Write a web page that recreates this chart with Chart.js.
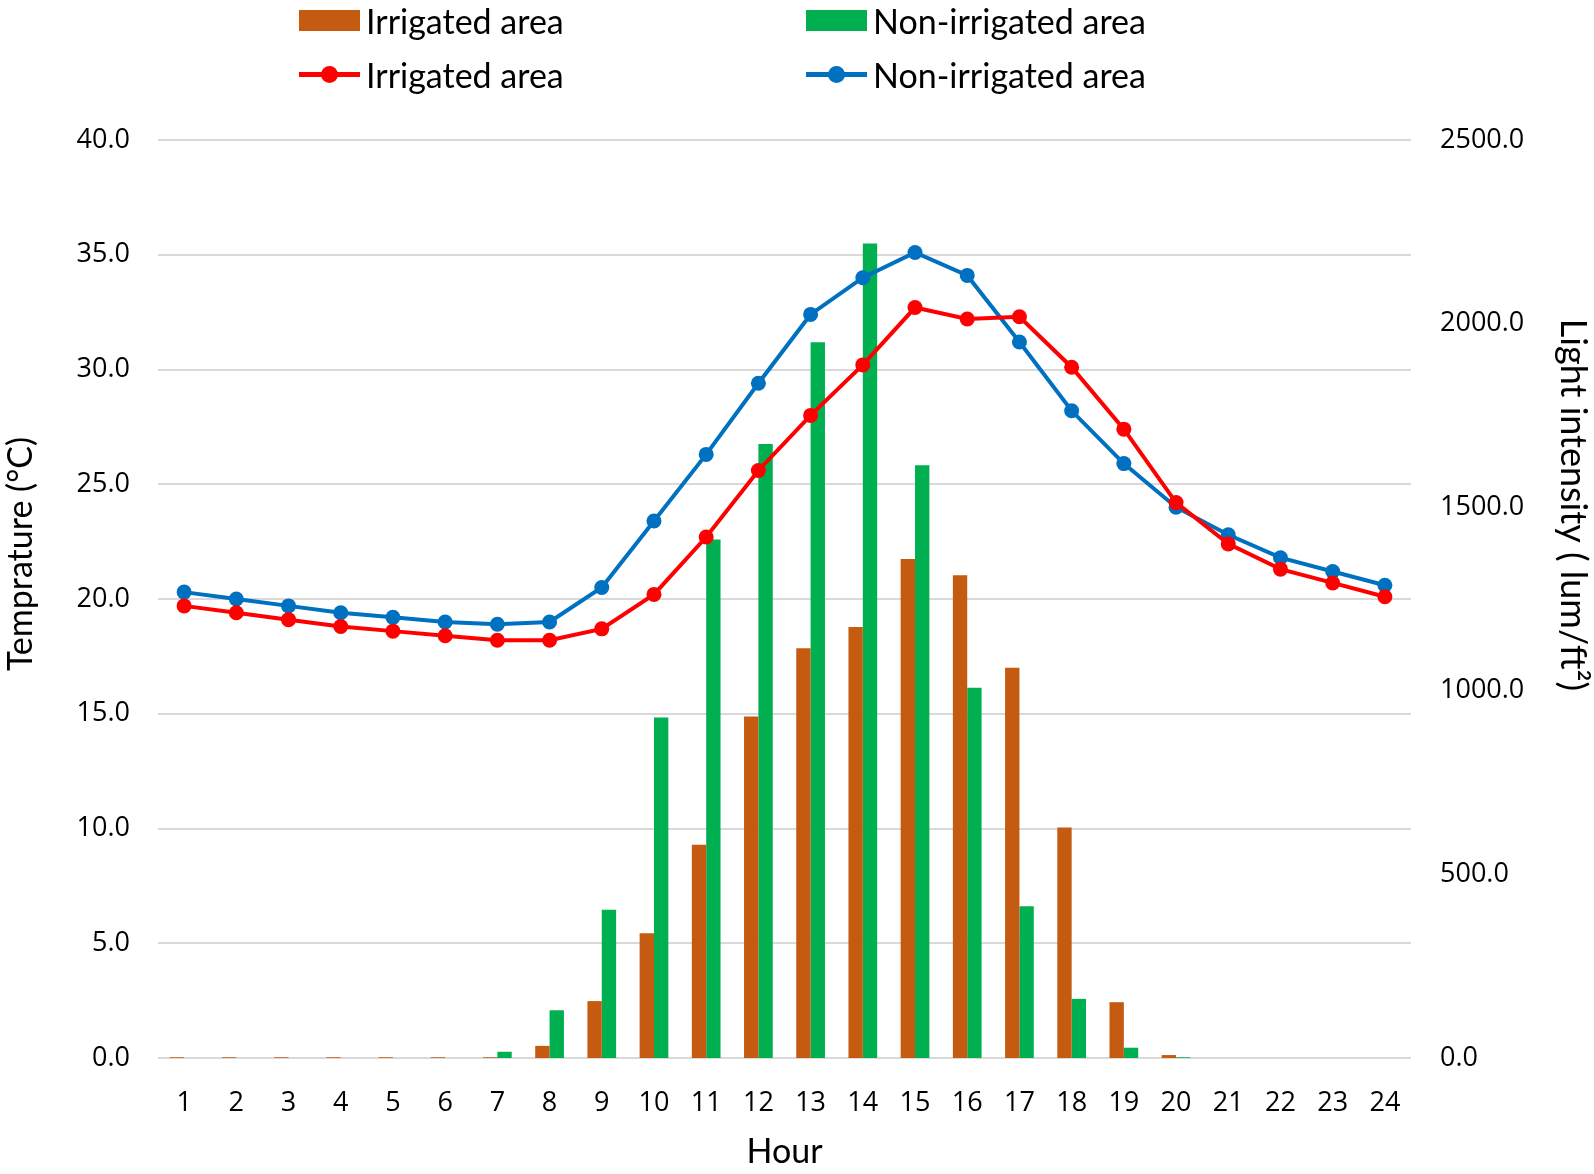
<!DOCTYPE html>
<html>
<head>
<meta charset="utf-8">
<script src="https://cdn.jsdelivr.net/npm/chart.js@4.4.0/dist/chart.umd.min.js"></script>
<style>
  body { margin: 0; background: #fff; }
  #wrap { position: relative; width: 1594px; height: 1174px; }
  #legend { position: absolute; left: 0; top: 0; width: 1594px; height: 110px; font-family: Lato, "Open Sans", sans-serif; font-size: 34px; color: #000; }
  .item { position: absolute; display: flex; align-items: center; height: 42px; }
  .box { width: 61px; height: 21px; margin-right: 6px; }
  .ln { position: relative; width: 61px; height: 21px; margin-right: 6px; }
  .ln::before { content: ''; position: absolute; left: 0; right: 0; top: 8px; height: 5px; background: var(--c); }
  .ln::after { content: ''; position: absolute; left: 22px; top: 2px; width: 17px; height: 17px; border-radius: 50%; background: var(--c); }
</style>
</head>
<body>
<div id="wrap">
  <canvas id="chart" width="1594" height="1174"></canvas>
  <div id="legend"></div>
</div>
<script>
// data
const hours = ['1','2','3','4','5','6','7','8','9','10','11','12','13','14','15','16','17','18','19','20','21','22','23','24'];

// temperature (°C), left axis
const tempIrrigated = [19.7, 19.4, 19.1, 18.8, 18.6, 18.4, 18.2, 18.2, 18.7, 20.2, 22.7, 25.6, 28.0, 30.2, 32.7, 32.2, 32.3, 30.1, 27.4, 24.2, 22.4, 21.3, 20.7, 20.1];
const tempNonIrrigated = [20.3, 20.0, 19.7, 19.4, 19.2, 19.0, 18.9, 19.0, 20.5, 23.4, 26.3, 29.4, 32.4, 34.0, 35.1, 34.1, 31.2, 28.2, 25.9, 24.0, 22.8, 21.8, 21.2, 20.6];

// light intensity (lum/ft²), right axis
const lightIrrigated = [2, 2, 2, 2, 2, 2, 2, 33, 155, 340, 581, 930, 1116, 1174, 1359, 1315, 1063, 628, 152, 8, 0, 0, 0, 0];
const lightNonIrrigated = [0, 0, 0, 0, 0, 0, 17, 130, 404, 927, 1412, 1672, 1949, 2218, 1614, 1008, 413, 161, 28, 2, 0, 0, 0, 0];

const ORANGE = '#C55A11';
const GREEN = '#00B050';
const RED = '#FF0000';
const BLUE = '#0070C0';

const tickFont = { family: '"Open Sans", sans-serif', size: 27 };
const titleFont = { family: 'Lato, "Open Sans", sans-serif', size: 34 };

// legend in two rows, built by hand
const legendItems = [
    { label: 'Irrigated area', color: ORANGE, kind: 'box', x: 299, y: -1 },
    { label: 'Non-irrigated area', color: GREEN, kind: 'box', x: 806, y: -1 },
    { label: 'Irrigated area', color: RED, kind: 'ln', x: 299, y: 53 },
    { label: 'Non-irrigated area', color: BLUE, kind: 'ln', x: 806, y: 53 }
];
const legendEl = document.getElementById('legend');
legendItems.forEach(it => {
    const d = document.createElement('div');
    d.className = 'item';
    d.style.left = it.x + 'px';
    d.style.top = it.y + 'px';
    const m = document.createElement('span');
    m.className = it.kind;
    if (it.kind === 'box') m.style.background = it.color;
    else m.style.setProperty('--c', it.color);
    d.appendChild(m);
    const t = document.createElement('span');
    t.textContent = it.label;
    d.appendChild(t);
    legendEl.appendChild(d);
});

// the two side titles sit off-centre in the original, so draw them here
const sideTitles = {
    id: 'sideTitles',
    afterDraw(chart) {
        const c = chart.ctx;
        c.save();
        c.fillStyle = '#000';
        c.textAlign = 'center';
        c.textBaseline = 'middle';
        c.font = '34px Lato, "Open Sans", sans-serif';
        c.translate(21, 554);
        c.rotate(-Math.PI / 2);
        c.fillText('Temprature (°C)', 0, 0);
        c.restore();

        c.save();
        c.fillStyle = '#000';
        c.textAlign = 'center';
        c.textBaseline = 'middle';
        c.font = '36px Lato, "Open Sans", sans-serif';
        c.translate(1573, 505);
        c.rotate(Math.PI / 2);
        c.fillText('Light intensity ( lum/ft²)', 0, 0);
        c.restore();
    }
};

const ctx = document.getElementById('chart').getContext('2d');
new Chart(ctx, {
    type: 'bar',
    data: {
        labels: hours,
        datasets: [
            {
                type: 'line',
                label: 'Irrigated area',
                data: tempIrrigated,
                yAxisID: 'y',
                borderColor: RED,
                backgroundColor: RED,
                borderWidth: 4,
                pointRadius: 7.5,
                pointHoverRadius: 7.5,
                pointBorderWidth: 0,
                tension: 0,
                order: 0
            },
            {
                type: 'line',
                label: 'Non-irrigated area',
                data: tempNonIrrigated,
                yAxisID: 'y',
                borderColor: BLUE,
                backgroundColor: BLUE,
                borderWidth: 4,
                pointRadius: 7.5,
                pointHoverRadius: 7.5,
                pointBorderWidth: 0,
                tension: 0,
                order: 0
            },
            {
                label: 'Irrigated area',
                data: lightIrrigated,
                yAxisID: 'y2',
                backgroundColor: ORANGE,
                categoryPercentage: 0.55,
                barPercentage: 1.0,
                order: 1
            },
            {
                label: 'Non-irrigated area',
                data: lightNonIrrigated,
                yAxisID: 'y2',
                backgroundColor: GREEN,
                categoryPercentage: 0.55,
                barPercentage: 1.0,
                order: 1
            }
        ]
    },
    options: {
        responsive: false,
        animation: false,
        layout: { padding: { top: 140, left: 0, right: 0, bottom: 0 } },
        plugins: {
            legend: { display: false },
            tooltip: { enabled: false }
        },
        scales: {
            x: {
                grid: { display: false },
                border: { display: false },
                ticks: { color: '#000', font: tickFont, padding: 21, maxRotation: 0 },
                title: { display: true, text: 'Hour', color: '#000', font: titleFont, padding: { top: 2, bottom: 2 } },
                afterFit: s => { s.height = 116; }
            },
            y: {
                position: 'left',
                min: 0,
                max: 40,
                grid: { color: '#D9D9D9', lineWidth: 2, drawTicks: false },
                border: { display: false },
                ticks: { stepSize: 5, color: '#000', font: tickFont, padding: 28, callback: v => v.toFixed(1) },
                afterFit: s => { s.width = 158; }
            },
            y2: {
                position: 'right',
                min: 0,
                max: 2500,
                grid: { display: false, drawTicks: false },
                border: { display: false },
                ticks: { stepSize: 500, color: '#000', font: tickFont, padding: 29, callback: v => v.toFixed(1) },
                afterFit: s => { s.width = 183; }
            }
        }
    },
    plugins: [sideTitles]
});
</script>
</body>
</html>
